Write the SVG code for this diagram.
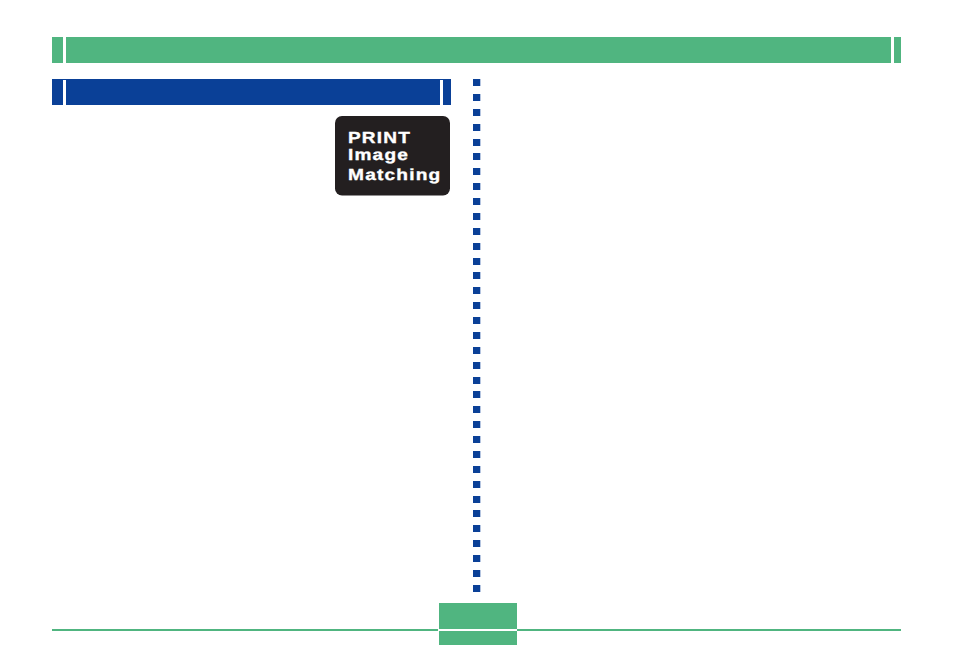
<svg xmlns="http://www.w3.org/2000/svg" width="954" height="646" viewBox="0 0 954 646">
<style>
.g{fill:#50b580}.b{fill:#0a4097}.w{fill:#fff}
.t{font-family:"Liberation Sans",Arial,sans-serif;font-weight:700;font-size:16px;fill:#fff;stroke:#fff;stroke-width:.35px;letter-spacing:1px;text-rendering:geometricPrecision}
</style>
<rect width="954" height="646" fill="#fff"/>
<g id="top-bar"><rect class="g" x="52" y="37" width="849" height="26"/><rect class="w" x="63" y="37" width="3" height="26"/><rect class="w" x="891" y="37" width="3" height="26"/></g>
<g id="section-bar"><rect class="b" x="52" y="79" width="399" height="26"/><rect class="w" x="63" y="80" width="3" height="25"/><rect class="w" x="440" y="80" width="3" height="25"/></g>
<g id="badge"><rect x="335" y="116" width="115" height="79.500" rx="7" fill="#231f20"/>
<text class="t" x="348" y="142.600" textLength="63" lengthAdjust="spacingAndGlyphs">PRINT</text><text class="t" x="348" y="160.200" textLength="61" lengthAdjust="spacingAndGlyphs">Image</text><text class="t" x="348" y="180.200" textLength="93.500" lengthAdjust="spacingAndGlyphs">Matching</text></g>
<g id="divider" class="b">
<rect x="473" y="79" width="7.300" height="7"/><rect x="473" y="94" width="7.300" height="7"/><rect x="473" y="109" width="7.300" height="7"/><rect x="473" y="124" width="7.300" height="7"/><rect x="473" y="139" width="7.300" height="7"/><rect x="473" y="153" width="7.300" height="7"/><rect x="473" y="168" width="7.300" height="7"/><rect x="473" y="183" width="7.300" height="7"/><rect x="473" y="198" width="7.300" height="7"/><rect x="473" y="213" width="7.300" height="7"/><rect x="473" y="228" width="7.300" height="7"/><rect x="473" y="243" width="7.300" height="7"/><rect x="473" y="258" width="7.300" height="7"/><rect x="473" y="272" width="7.300" height="7"/><rect x="473" y="287" width="7.300" height="7"/><rect x="473" y="302" width="7.300" height="7"/><rect x="473" y="317" width="7.300" height="7"/><rect x="473" y="332" width="7.300" height="7"/><rect x="473" y="347" width="7.300" height="7"/><rect x="473" y="362" width="7.300" height="7"/><rect x="473" y="377" width="7.300" height="7"/><rect x="473" y="391" width="7.300" height="7"/><rect x="473" y="406" width="7.300" height="7"/><rect x="473" y="421" width="7.300" height="7"/><rect x="473" y="436" width="7.300" height="7"/><rect x="473" y="451" width="7.300" height="7"/><rect x="473" y="466" width="7.300" height="7"/><rect x="473" y="481" width="7.300" height="7"/><rect x="473" y="496" width="7.300" height="7"/><rect x="473" y="510" width="7.300" height="7"/><rect x="473" y="525" width="7.300" height="7"/><rect x="473" y="540" width="7.300" height="7"/><rect x="473" y="555" width="7.300" height="7"/><rect x="473" y="570" width="7.300" height="7"/><rect x="473" y="585" width="7.300" height="7"/>
</g>
<g id="footer"><rect class="g" x="52" y="629" width="386" height="2"/><rect class="g" x="517" y="629" width="384" height="2"/><rect class="g" x="439" y="603" width="78" height="26"/><rect class="g" x="439" y="631" width="78" height="14"/></g>
</svg>
